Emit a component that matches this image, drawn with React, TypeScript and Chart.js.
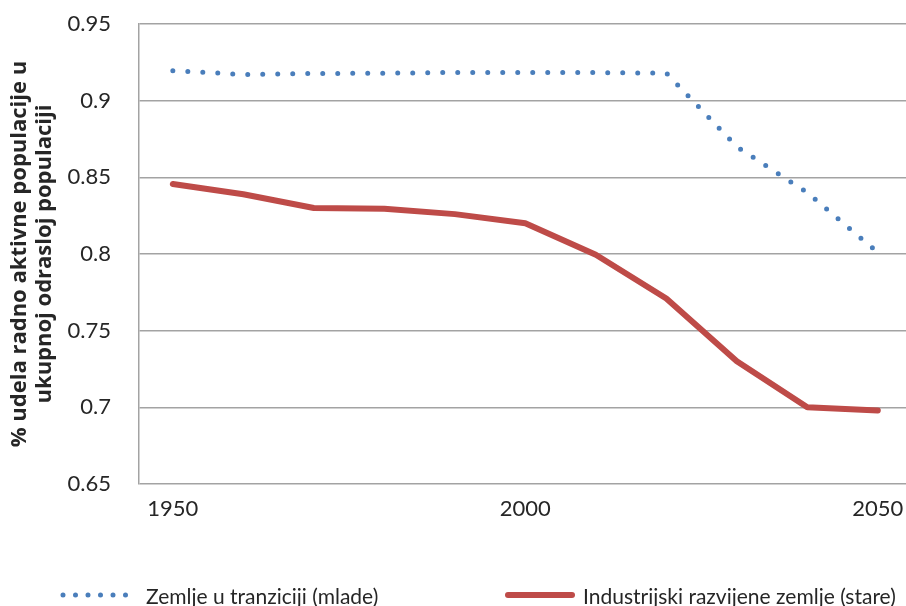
import React, { useEffect, useRef } from "react";
import { Chart, registerables } from "chart.js";

Chart.register(...registerables);

const years = [1950, 1960, 1970, 1980, 1990, 2000, 2010, 2020, 2030, 2040, 2050];
const tranzicija = [0.9195, 0.9171, 0.9177, 0.9179, 0.9184, 0.9184, 0.9183, 0.918, 0.87, 0.84, 0.801];
const industrijske = [0.8457, 0.839, 0.83, 0.8295, 0.826, 0.82, 0.7995, 0.771, 0.73, 0.7, 0.698];
const seriesNames = ["Zemlje u tranziciji (mlade)", "Industrijski razvijene zemlje (stare)"];
const xTickValues = [1950, 2000, 2050];
const xTickLabels = ["1950", "2000", "2050"];
const yTickValues = [0.65, 0.7, 0.75, 0.8, 0.85, 0.9, 0.95];
const yTickLabels = ["0.65", "0.7", "0.75", "0.8", "0.85", "0.9", "0.95"];
const yTitle = ["% udela radno aktivne populacije u", "ukupnoj odrasloj populaciji"];

const BLUE = "#4a7ebb";
const RED = "#be4b48";
const GRID = "#a3a3a3";
const TEXT = "#262626";
const TICK_FONT = "'Lato', sans-serif";

const legendPlugin = {
  id: "customLegend",
  afterDraw(chart: any) {
    const ctx = chart.ctx;
    const y = 597;
    const items = [
      { x0: 63, x1: 127, tx: 146 },
      { x0: 508, x1: 572, tx: 583 },
    ];
    chart.data.datasets.forEach((ds: any, i: number) => {
      const it = items[i];
      ctx.save();
      ctx.strokeStyle = ds.borderColor;
      ctx.lineWidth = ds.borderWidth;
      ctx.lineCap = ds.borderCapStyle || "butt";
      ctx.setLineDash(ds.legendDash || []);
      ctx.beginPath();
      ctx.moveTo(it.x0, y - 2);
      ctx.lineTo(it.x1, y - 2);
      ctx.stroke();
      ctx.restore();
      ctx.save();
      ctx.fillStyle = TEXT;
      ctx.font = `21px ${TICK_FONT}`;
      ctx.textBaseline = "middle";
      ctx.textAlign = "left";
      ctx.fillText(ds.label, it.tx, y);
      ctx.restore();
    });
  },
};

export default function App() {
  const ref = useRef<HTMLCanvasElement | null>(null);
  useEffect(() => {
    if (!ref.current) return;
    const chart = new Chart(ref.current, {
      type: "line",
      data: {
        datasets: [
          {
            label: seriesNames[0],
            data: years.map((x, i) => ({ x, y: tranzicija[i] })),
            borderColor: BLUE,
            backgroundColor: BLUE,
            borderWidth: 5,
            borderCapStyle: "round",
            borderDash: [0, 15],
            legendDash: [0, 12.5],
            pointRadius: 0,
            tension: 0,
          } as any,
          {
            label: seriesNames[1],
            data: years.map((x, i) => ({ x, y: industrijske[i] })),
            borderColor: RED,
            backgroundColor: RED,
            borderWidth: 6,
            borderCapStyle: "round",
            borderJoinStyle: "round",
            pointRadius: 0,
            tension: 0,
          } as any,
        ],
      },
      options: {
        responsive: false,
        animation: false,
        layout: { padding: { top: 24, left: 0, right: 0, bottom: 0 } },
        plugins: { legend: { display: false }, tooltip: { enabled: false } },
        scales: {
          x: {
            type: "linear",
            min: 1945.2,
            max: 2054,
            grid: { display: false, drawTicks: false },
            border: { display: false },
            afterBuildTicks: (s: any) => {
              s.ticks = xTickValues.map((v) => ({ value: v }));
            },
            afterFit: (s: any) => {
              s.height = 122;
              s.paddingLeft = 0;
              s.paddingRight = 0;
            },
            ticks: {
              autoSkip: false,
              maxRotation: 0,
              padding: 12,
              color: TEXT,
              font: { family: TICK_FONT, size: 22 },
              callback: (v: any) => xTickLabels[xTickValues.indexOf(Number(v))] ?? "",
            },
          },
          y: {
            type: "linear",
            min: 0.65,
            max: 0.95,
            afterBuildTicks: (s: any) => {
              s.ticks = yTickValues.map((v) => ({ value: v }));
            },
            afterFit: (s: any) => {
              s.width = 139;
              s.paddingTop = 0;
              s.paddingBottom = 0;
            },
            grid: { color: GRID, lineWidth: 1.5, drawTicks: false },
            border: { display: true, color: GRID, width: 1.5 },
            ticks: {
              padding: 28,
              color: TEXT,
              font: { family: TICK_FONT, size: 22 },
              callback: (v: any, i: number) => yTickLabels[i],
            },
            title: {
              display: true,
              text: yTitle,
              color: TEXT,
              padding: { top: 7, bottom: 0 },
              font: { family: "'Open Sans', sans-serif", size: 22, weight: "bold", lineHeight: 1.15 },
            },
          },
        },
      },
      plugins: [legendPlugin],
    });
    return () => chart.destroy();
  }, []);
  return (
    <div style={{ position: "absolute", left: 0, top: 0, width: 906, height: 606, background: "#fff" }}>
      <canvas ref={ref} width={906} height={606} style={{ display: "block" }} />
    </div>
  );
}
